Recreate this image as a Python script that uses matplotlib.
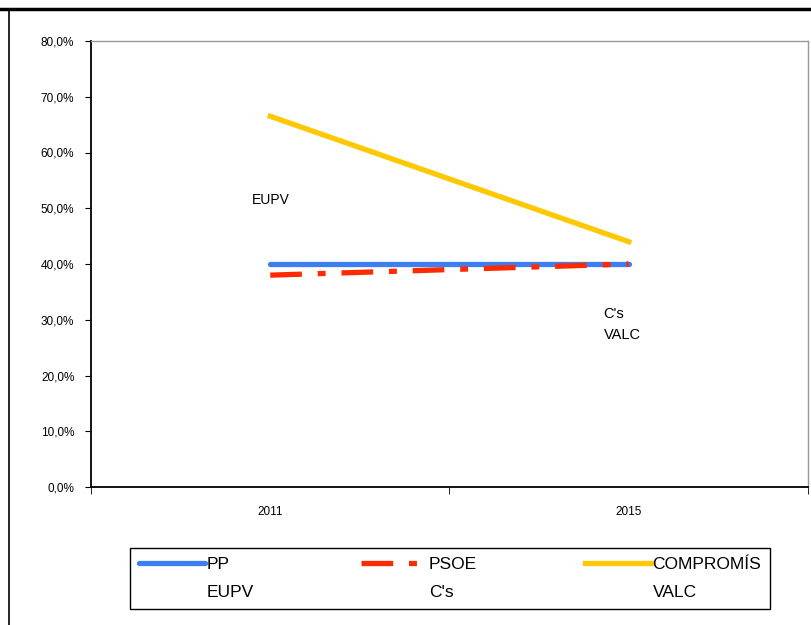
import matplotlib
matplotlib.use("Agg")
import matplotlib.pyplot as plt
from matplotlib.lines import Line2D
from matplotlib.ticker import FixedLocator

plt.rcParams['font.family'] = ['Liberation Sans', 'DejaVu Sans']

years = ["2011", "2015"]
pp = [40.0, 40.0]
psoe = [38.0, 40.0]
compromis = [66.5, 44.0]
yticks = [0, 10, 20, 30, 40, 50, 60, 70, 80]
ytick_labels = ["0,0%", "10,0%", "20,0%", "30,0%", "40,0%", "50,0%", "60,0%", "70,0%", "80,0%"]

fig = plt.figure(figsize=(8.12, 6.25), dpi=100)
ax = fig.add_axes([91/812, 1-487/625, (808-91)/812, (487-41)/625])

x = list(range(len(years)))
l_pp, = ax.plot(x, pp, color="#3d7ef0", lw=3.8, solid_capstyle="round", zorder=3)
l_psoe, = ax.plot(x, psoe, color="#ff2a00", lw=3.8, dashes=(6, 3, 1.5, 3), zorder=4)
l_comp, = ax.plot(x, compromis, color="#ffc800", lw=3.8, zorder=3)

ax.set_xlim(-0.5, 1.5)
ax.set_ylim(0, 80)
ax.set_yticks(yticks)
ax.set_yticklabels(ytick_labels, fontsize=8.5)
ax.set_xticks(x)
ax.set_xticklabels(years, fontsize=8.5)
ax.tick_params(axis='x', which='major', length=0, pad=14)
ax.xaxis.set_minor_locator(FixedLocator([-0.5, 0.5, 1.5]))
ax.tick_params(axis='x', which='minor', length=5, direction='out', color='black')
ax.tick_params(axis='y', length=4, direction='out', pad=8)
for s in ['left', 'bottom']:
    ax.spines[s].set_color('black')
    ax.spines[s].set_linewidth(1.3)
for s in ['top', 'right']:
    ax.spines[s].set_color('#999999')
    ax.spines[s].set_linewidth(1.0)

# stray labels
ax.text(-0.05, 51.5, "EUPV", fontsize=10, ha='left', va='center')
ax.text(0.93, 31.0, "C's", fontsize=10.5, ha='left', va='center')
ax.text(0.93, 27.2, "VALC", fontsize=10.5, ha='left', va='center')

blank = Line2D([], [], color='none')
handles = [l_pp, blank, l_psoe, blank, l_comp, blank]
labels = ["PP", "EUPV", "PSOE", "C's", "COMPROMÍS", "VALC"]
leg = fig.legend(handles, labels, ncol=3, loc='upper left',
                 bbox_to_anchor=(130/812, 1-620/625, (770-130)/812, 72/625),
                 mode='expand', fontsize=12.5, frameon=True, fancybox=False,
                 edgecolor='black', framealpha=1, handlelength=3.8, handletextpad=0.1,
                 borderaxespad=0, borderpad=0.5, labelspacing=0.75)
leg.get_frame().set_linewidth(1.0)

# outer frame lines
fig.add_artist(Line2D([0, 1], [1-9/625, 1-9/625], color='black', lw=2.5, transform=fig.transFigure))
fig.add_artist(Line2D([9/812, 9/812], [0, 1-9/625], color='black', lw=1.2, transform=fig.transFigure))

fig.savefig("out.png", dpi=100)
